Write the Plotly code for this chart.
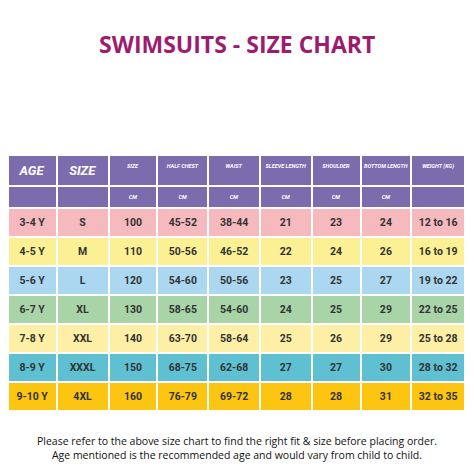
import plotly.graph_objects as go

ages = ["3-4 Y", "4-5 Y", "5-6 Y", "6-7 Y", "7-8 Y", "8-9 Y", "9-10 Y"]
sizes = ["S", "M", "L", "XL", "XXL", "XXXL", "4XL"]
size_cm = ["100", "110", "120", "130", "140", "150", "160"]
half_chest = ["45-52", "50-56", "54-60", "58-65", "63-70", "68-75", "76-79"]
waist = ["38-44", "46-52", "50-56", "54-60", "58-64", "62-68", "69-72"]
sleeve = ["21", "22", "23", "24", "25", "27", "28"]
shoulder = ["23", "24", "25", "25", "26", "27", "28"]
bottom = ["24", "26", "27", "29", "29", "30", "31"]
weight = ["12 to 16", "16 to 19", "19 to 22", "22 to 25", "25 to 28", "28 to 32", "32 to 35"]
headers = ["AGE", "SIZE", "SIZE", "HALF CHEST", "WAIST", "SLEEVE LENGTH", "SHOULDER", "BOTTOM LENGTH", "WEIGHT (KG)"]
units = ["", "", "CM", "CM", "CM", "CM", "CM", "CM", ""]
row_colors = ["#f5b9be", "#fcf095", "#acd7f1", "#a9d4a8", "#fdf0a6", "#5ec0d0", "#fbc511"]

nb = lambda s: s.replace(" ", "\u00a0")
cols = [ages, sizes, size_cm, half_chest, waist, sleeve, shoulder, bottom, weight]
hdr_vals = [[f"<i><b>{nb(h)}</b></i>", f"<i><b>{u}</b></i>" if u else ""] for h, u in zip(headers, units)]
hdr_sizes = [13, 13] + [5.5] * 7

fig = go.Figure(go.Table(
    domain=dict(x=[0, 0.965], y=[0.08, 0.69]),
    columnwidth=[50, 53, 50, 52, 53, 53, 50, 52, 55],
    header=dict(values=hdr_vals, fill_color="#7b6cae", line=dict(color="white", width=2),
                font=dict(color="white", size=hdr_sizes, family="Roboto"),
                align="center", height=20),
    cells=dict(values=[[f"<b>{nb(v)}</b>" for v in c] for c in cols],
               fill_color=[row_colors] * 9, line=dict(color="white", width=2),
               font=dict(color="#333333", size=10.5, family="Roboto"),
               align="center", height=20),
))
fig.add_annotation(text="<b>SWIMSUITS - SIZE CHART</b>", x=0.483, y=1-36/474, xref="paper", yref="paper",
                   yanchor="middle", showarrow=False, font=dict(size=23, color="#9c1d6f", family="Open Sans"))
fig.add_annotation(text="Please refer to the above size chart to find the right fit &amp; size before placing order.<br>Age mentioned is the recommended age and would vary from child to child.",
                   x=0.483, y=1-440/474, xref="paper", yref="paper", yanchor="middle", showarrow=False,
                   font=dict(size=10.5, color="#111111", family="Open Sans"))
fig.update_layout(width=474, height=474, margin=dict(l=0, r=0, t=0, b=0), paper_bgcolor="white")
fig.write_html("out.html")
